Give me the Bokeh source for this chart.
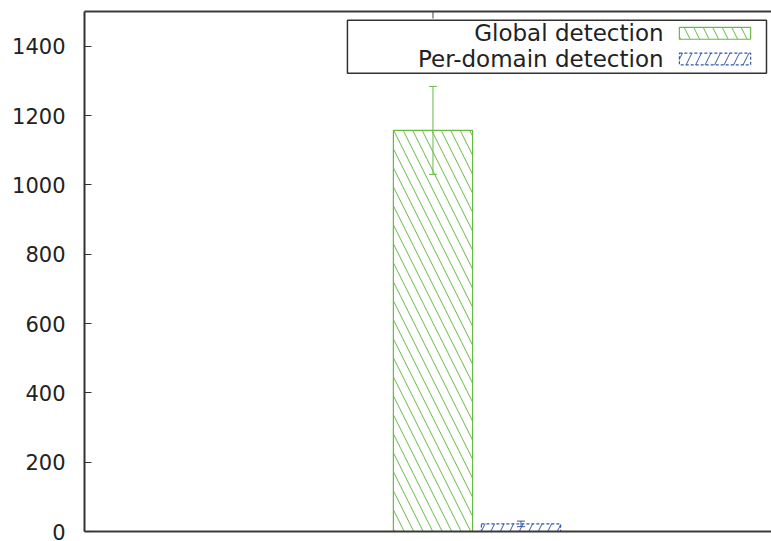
from bokeh.plotting import figure
from bokeh.models import ColumnDataSource, LinearAxis, FixedTicker, Range1d
from bokeh.core.properties import value
from bokeh.embed import file_html
from bokeh.resources import INLINE

# ---- data ----
series = ["Global detection", "Per-domain detection"]
means = [1157, 22]
errors = [127, 8]
y_ticks = [0, 200, 400, 600, 800, 1000, 1200, 1400]

# ---- styles ----
colors = ["#66bb44", "#3556a8"]
hatches = ["\\", "/"]
dashes = ["solid", "3 2"]
BAR_W = 0.9
FONT = "DejaVu Sans"
Y_MAX = 1500

p = figure(width=771, height=541, output_backend="svg", toolbar_location=None,
           x_range=Range1d(-3.96, 3.847), y_range=Range1d(0, Y_MAX),
           x_axis_location=None, y_axis_location=None,
           min_border_left=84, min_border_right=0, min_border_top=11, min_border_bottom=10)
p.outline_line_color = None
p.background_fill_color = "white"
p.grid.visible = False

# axes
yax = LinearAxis(ticker=FixedTicker(ticks=y_ticks), major_tick_in=7, major_tick_out=0,
                 minor_tick_line_color=None, major_label_standoff=19,
                 axis_line_width=2, axis_line_color="#333333",
                 major_tick_line_color="#333333", major_tick_line_width=1,
                 major_label_text_font=FONT, major_label_text_font_size="21px",
                 major_label_text_color="#222222")
p.add_layout(yax, "left")

for loc in ("above", "below"):
    ax = LinearAxis(ticker=FixedTicker(ticks=[]), major_tick_in=0, major_tick_out=0,
                    minor_tick_line_color=None, major_label_standoff=0,
                    axis_line_width=2, axis_line_color="#3a3a3a")
    p.add_layout(ax, loc)

# single x tick on the top border, at the first cluster position
tick_len = 7 * Y_MAX / 520.0
p.segment(x0=[0], y0=[Y_MAX], x1=[0], y1=[Y_MAX - tick_len], line_color="#444444", line_width=1)

# bars and error bars
for i, name in enumerate(series):
    src = ColumnDataSource(dict(x=[i], top=[means[i]],
                                lo=[means[i] - errors[i]], hi=[means[i] + errors[i]]))
    p.vbar(x="x", top="top", bottom=0, width=BAR_W, source=src,
           fill_color=None, line_color=colors[i], line_width=1.2, line_dash=dashes[i],
           hatch_pattern=hatches[i], hatch_color=colors[i], hatch_scale=19, hatch_weight=1)
    p.segment(x0="x", y0="lo", x1="x", y1="hi", source=src, line_color=colors[i], line_width=1)
    p.scatter(x="x", y="hi", marker="dash", size=8, source=src, line_color=colors[i], line_width=1)
    p.scatter(x="x", y="lo", marker="dash", size=8, source=src, line_color=colors[i], line_width=1)

# legend (drawn manually: label on the left, swatch on the right)
LEG_X0, LEG_X1 = -0.972, 3.79
LEG_Y0, LEG_Y1 = 1322, 1475
ROW_Y = [1437, 1363]
TEXT_X = 2.62
SW_X0, SW_X1, SW_H = 2.80, 3.61, 17
p.quad(left=[LEG_X0], right=[LEG_X1], bottom=[LEG_Y0], top=[LEG_Y1],
       fill_color="white", line_color="#333333", line_width=1.5)
for i, name in enumerate(series):
    p.text(x=[TEXT_X], y=[ROW_Y[i]], text=[name], text_align="right", text_baseline="middle",
           text_font=value(FONT), text_font_size="23px", text_color="#222222")
    p.quad(left=[SW_X0], right=[SW_X1], bottom=[ROW_Y[i] - SW_H], top=[ROW_Y[i] + SW_H],
           fill_color=None, line_color=colors[i], line_width=1.2, line_dash=dashes[i],
           hatch_pattern=hatches[i], hatch_color=colors[i], hatch_scale=19, hatch_weight=1)

open("out.html", "w").write(file_html(p, INLINE))
